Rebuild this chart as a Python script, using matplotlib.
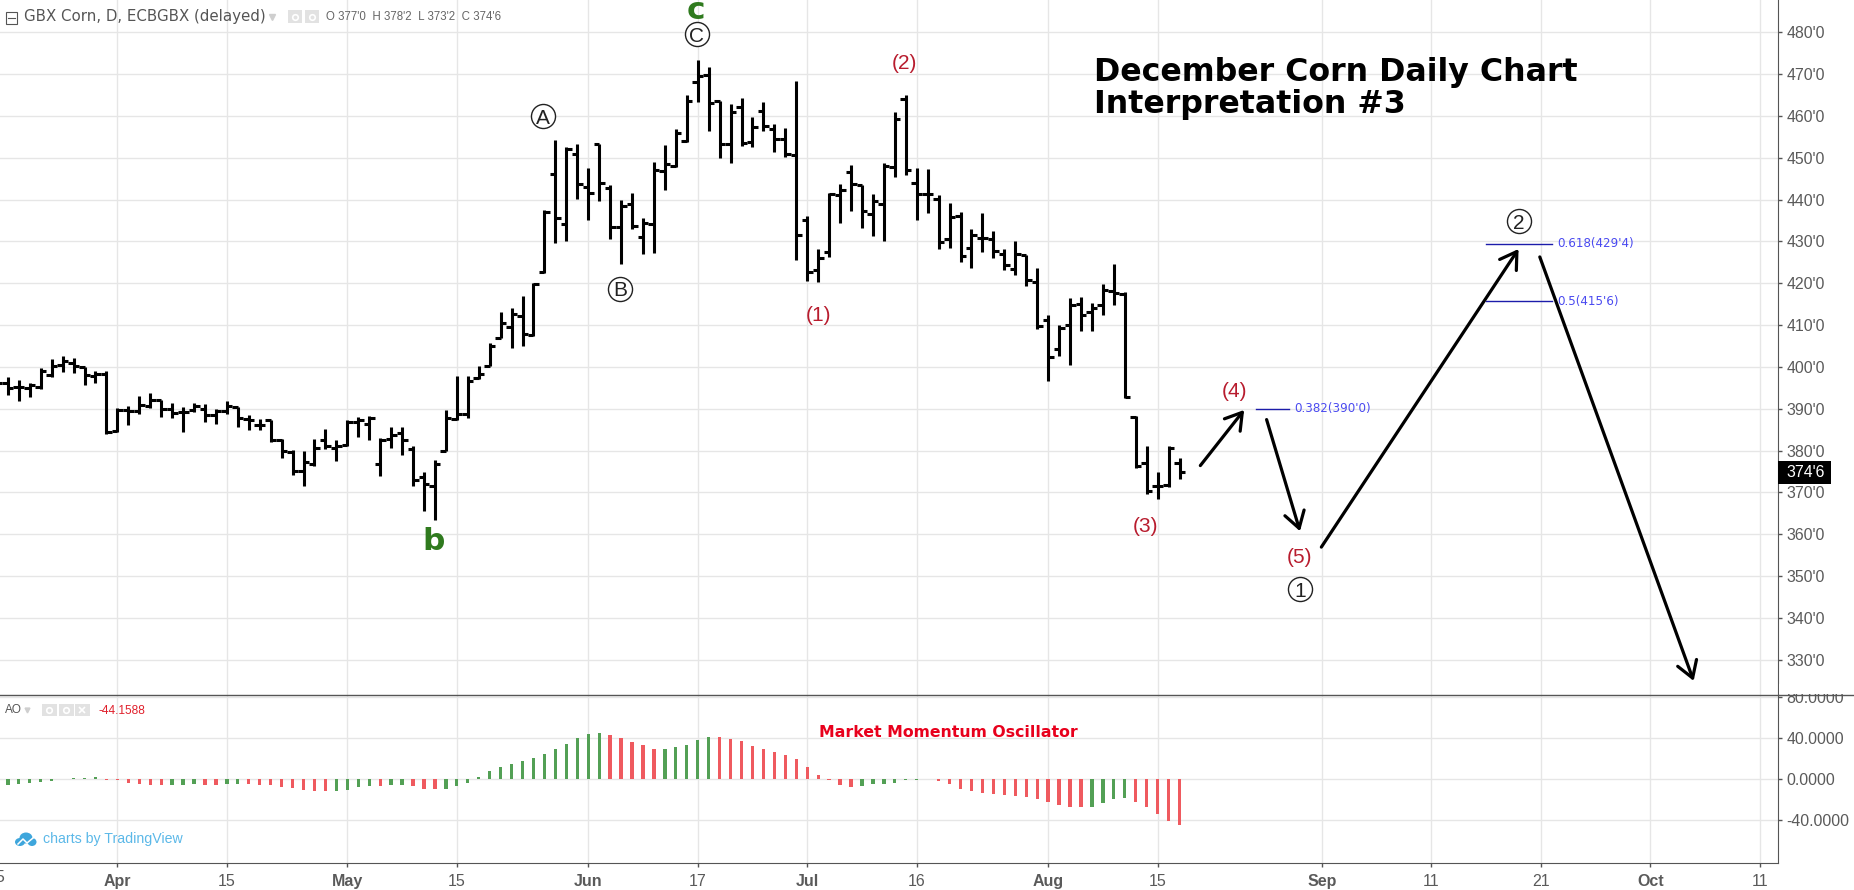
#!/usr/bin/env python3
# -*- coding: utf-8 -*-

import matplotlib
matplotlib.use("Agg")
import matplotlib.pyplot as plt
from matplotlib.patches import Ellipse, Rectangle

plt.rcParams["font.family"] = ["Liberation Sans", "DejaVu Sans"]

W, H = 1854, 890
GRID = "#e6e6e6"
AXIS = "#555555"

# bar index 0 = Apr 2, one step per session
bar_open = [396, 396.2, 395.1, 395, 395.1, 398, 400.5, 400.9, 399.9, 397.8, 398.2,
            384.6, 389.7, 389.4, 390.6, 392, 390, 389.2, 389.6, 390, 388.4, 389.4,
            390.4, 387.6, 386.1, 387.2, 382.6, 379.6, 375.2, 376.8, 382.4, 380.6,
            381.3, 386.8, 386.4, 376.8, 382.8, 384.2, 380.4, 373.6, 371.4, 379.9,
            387.6, 388.8, 397.4, 400.1, 407, 409.6, 412.1, 407.6, 422.8, 446.1,
            434.1, 451, 443.1, 453.3, 442.9, 433.5, 438.9, 431, 434.1, 446.9,
            448, 454, 468.1, 469.7, 463.6, 453.3, 462.1, 453.7, 461.1, 456.9,
            454.5, 450.7, 435.1, 423.1, 427.5, 441.2, 446.5, 443.4, 436.6, 439,
            447.7, 464, 443.9, 441.4, 440.1, 430.6, 436, 428.5, 430.8, 430.7,
            427.1, 423.5, 426.7, 420.3, 411.2, 404.3, 410, 415.1, 413.2, 414.9,
            418.1, 417.5, 388.1, 377.1, 371.4, 371.8, 377]
bar_high = [397, 397.5, 396.9, 396.2, 399.8, 401.9, 402.6, 402.2, 400, 399.1, 399.1,
            390.1, 390.6, 393, 393.7, 392.1, 391.3, 390.5, 391.4, 391.2, 390, 391.8,
            390.5, 388.6, 387.6, 387.3, 382.8, 380.2, 380, 382.8, 385.2, 382.5,
            387.3, 388, 388.2, 383, 385.7, 385.7, 381, 374.8, 377.8, 389.6,
            397.9, 397.9, 400.3, 405.7, 413.2, 414, 417, 420.1, 437.5, 454.2,
            452.5, 453.4, 447.5, 453.4, 443.5, 440, 441.5, 435.5, 449, 453,
            457, 465.1, 473.4, 471.7, 463.7, 462.9, 464.4, 459.7, 463.3, 458,
            457.1, 468.4, 436.1, 428.2, 441.7, 443.7, 448.2, 443.5, 441.3, 448.7,
            460.9, 465, 447.5, 447.3, 441.2, 439.3, 437, 433, 436.9, 432.5,
            428.3, 430, 426.8, 423.7, 412.5, 410, 416.5, 416.8, 415.3, 419.9,
            424.7, 418, 388.2, 381.1, 374.8, 381, 378.25]
bar_low = [394.5, 393.3, 391.8, 392.7, 394.7, 397.7, 398.7, 398.6, 395.7, 396.2, 384,
           384.4, 386.1, 388.8, 390.1, 388, 387.7, 384.4, 389.2, 386.8, 386.4, 388.8,
           385.6, 384.9, 384.8, 382, 378.2, 374.2, 371.4, 376.3, 380.4, 377.5,
           381, 383.3, 382.6, 373.8, 380.5, 379, 371.4, 365.5, 363.3, 379.8,
           387.2, 387.8, 397, 400.1, 407, 404.4, 405.1, 407.3, 422.5, 429.7,
           430.2, 440.1, 435.1, 439.7, 430.7, 424.7, 432.9, 427.1, 427.3, 442.3,
           447.8, 453.8, 463.4, 456.5, 449.9, 448.7, 452.9, 452.5, 456.5, 451.4,
           450.2, 425.6, 420.6, 420.2, 426.3, 434.4, 437.4, 433.2, 431.2, 430,
           445.3, 445.8, 435.2, 436.9, 428.1, 428.4, 425.1, 423.7, 427.5, 426.1,
           423.2, 421.9, 419.4, 409.1, 396.7, 402.5, 400.4, 408.7, 408.7, 412.5,
           414.7, 392.6, 375.8, 369.7, 368.5, 371.3, 373.25]
bar_close = [396.2, 394.9, 395.1, 395.7, 399, 400.3, 401.5, 400.2, 398.1, 398.2, 384.5,
             389.8, 389.4, 390.8, 392.2, 390, 389, 389.2, 390.6, 388.4, 389.4, 390.6,
             387.8, 387.2, 386.1, 382.6, 379.8, 375.2, 377.3, 380.6, 381.2, 381,
             386.8, 387.2, 387.8, 382.6, 383.8, 382.4, 373, 372, 376.7, 387.8,
             388.8, 396.6, 398.2, 405, 410.4, 412.7, 407.9, 419.8, 437.1, 435.7,
             452.2, 443.7, 441.7, 443.9, 433.5, 438.5, 433.7, 434.5, 447.1, 448.5,
             455.9, 463.6, 469.6, 463.1, 453.2, 460.9, 453.5, 457.3, 457.5, 454.5,
             450.9, 431.6, 422.8, 426, 441.3, 442.4, 443.7, 437.2, 439.7, 448.1,
             459.2, 447.1, 441.3, 441.4, 429.8, 435.8, 426.5, 431.5, 430.8, 427.7,
             424.4, 427.1, 420.8, 409.9, 402.3, 409.3, 414.8, 412.5, 414, 418.3,
             417.7, 392.7, 376.3, 370.4, 371.4, 380.7, 374.75]
bar_first = -11

ao_values = [-6, -5.6, -4.6, -3.3, -2.3, -1.3, 0, 1.3, 1.6, 2.3, -0.3,
             -1, -3.6, -4.6, -5.6, -5.6, -5.6, -5.6, -4.6, -5.6, -5.6, -4.6,
             -4.6, -4.6, -5.9, -5.9, -7.5, -8.5, -10.5, -11.5, -11.5, -11.5,
             -10.5, -7.5, -6.6, -6.6, -5.6, -5.6, -6.6, -9.5, -9.5, -9.5,
             -6.6, -3.3, 2.3, 8.2, 12.1, 15.1, 18, 21, 24.9, 29.8,
             34.8, 40.7, 44.6, 45.6, 43.6, 40.7, 36.7, 33.8, 29.8, 29.8,
             31.8, 33.8, 38.7, 41.6, 41.6, 39.7, 37.7, 32.8, 29.8, 26.9,
             23.9, 20, 12.1, 4.3, -1, -5.6, -7.5, -6.6, -4.6, -4.6,
             -3.3, -1, -1, 0, -1.3, -4.6, -9.5, -11.5, -13.4, -14.4,
             -15.4, -16.4, -17.4, -19.3, -22.3, -25.2, -27.2, -27.2, -27.2, -23.3,
             -19.3, -18.4, -22.3, -27.2, -34.1, -41, -44.16]
ao_rising = ("ggggggggggr" "rrrrrggg" "rr" "gg" "rrrrrrrr" "gggg" "r" "gg" "rrr"
             "ggggggggggggggg" "rrrrr" "ggggg" "rrrrrrrrrrrrr" "ggggggg"
             "rrrrrrrrrrrrrr" "gggg" "rrrrr")

price_ticks = list(range(330, 481, 10))
ao_ticks = [-40, 0, 40, 80]
date_ticks = [0, 10, 21, 31, 43, 53, 63, 73, 85, 95, 110, 120, 130, 140, 150]
date_labels = ["Apr", "15", "May", "15", "Jun", "17", "Jul", "16", "Aug", "15",
               "Sep", "11", "21", "Oct", "11"]
month_names = {"Apr", "May", "Jun", "Jul", "Aug", "Sep", "Oct"}

circle_labels = ["A", "B", "C", "1", "2"]
circle_x = [38.9, 45.9, 52.9, 108, 128]
circle_y = [459.9, 418.7, 479.5, 346.8, 434.8]

red_labels = ["(1)", "(2)", "(3)", "(4)", "(5)"]
red_x = [64, 71.9, 93.9, 102, 108]
red_y = [412.4, 472.5, 361.8, 394.1, 354.3]

green_labels = ["b", "c"]
green_x = [28.9, 52.8]
green_y = [356.2, 483.3]

arrow_from = [(98.9, 376.4), (104.95, 387.4), (109.95, 356.9), (129.9, 426.3)]
arrow_to = [(102.9, 389.7), (108, 360.7), (127.96, 428.2), (143.95, 324.9)]

fib_labels = ["0.382(390'0)", "0.618(429'4)", "0.5(415'6)"]
fib_price = [390, 429.5, 415.75]
fib_start = [104, 125, 125]
fib_end = [107, 131, 131]

fig = plt.figure(figsize=(W / 100, H / 100), dpi=100)


def pane(top, bottom):
    ax = fig.add_axes([0, 1 - bottom / H, 1778.4 / W, (bottom - top) / H])
    ax.set_xlim(-10.72, 151.69)
    ax.set_axisbelow(True)
    ax.yaxis.tick_right()
    ax.grid(True, color=GRID, linewidth=1)
    ax.set_xticks(date_ticks)
    for side in ("left", "top", "bottom"):
        ax.spines[side].set_visible(False)
    ax.spines["right"].set_color(AXIS)
    ax.tick_params(axis="y", length=3, width=1, color=AXIS, pad=2.6,
                   labelsize=11.4, labelcolor="#5a5a5a")
    return ax


# price pane
ax = pane(0, 694.7)
ax.set_ylim(321.6, 487.75)
ax.set_yticks(price_ticks)
ax.set_yticklabels([f"{p}'0" for p in price_ticks])
ax.tick_params(axis="x", length=0, labelbottom=False)

xs = [bar_first + k for k in range(len(bar_close))]
ax.vlines(xs, bar_low, bar_high, color="black", linewidth=2.2, capstyle="butt", zorder=3)
ax.hlines(bar_open, [x - 0.5 for x in xs], xs, color="black", linewidth=2.2, zorder=3)
ax.hlines(bar_close, xs, [x + 0.5 for x in xs], color="black", linewidth=2.2, zorder=3)

for y, lab, a, b in zip(fib_price, fib_labels, fib_start, fib_end):
    ax.plot([a, b], [y, y], color="#1c1caa", linewidth=1, zorder=4)
    ax.text(b + 0.5, y, lab, color="#4a4af0", fontsize=8.6, family="DejaVu Sans",
            va="center", ha="left", zorder=4)

for a, b in zip(arrow_from, arrow_to):
    ax.annotate("", xy=b, xytext=a, annotation_clip=False, zorder=5,
                arrowprops=dict(arrowstyle="->,head_length=0.58,head_width=0.36",
                                mutation_scale=20, color="black", linewidth=2.3,
                                shrinkA=0, shrinkB=0))

ax.scatter(circle_x, circle_y, s=300, facecolor="white", edgecolor="#222222",
           linewidth=1, zorder=4, clip_on=False)
for x, y, lab in zip(circle_x, circle_y, circle_labels):
    ax.text(x, y, lab, fontsize=15, color="#222222", ha="center", va="center_baseline", zorder=5)
for x, y, lab in zip(red_x, red_y, red_labels):
    ax.text(x, y, lab, fontsize=15, color="#b81c2e", ha="center", va="center", zorder=5)
for x, y, lab in zip(green_x, green_y, green_labels):
    ax.text(x, y, lab, fontsize=22.5, color="#2f7a1e", family="DejaVu Sans", weight="bold",
            ha="center", va="baseline", zorder=5)

# momentum pane
ax2 = pane(694.7, 863.3)
ax2.set_ylim(-81.95, 82.5)
ax2.set_yticks(ao_ticks)
ax2.set_yticklabels([f"{v:.4f}" for v in ao_ticks])
ax2.spines["bottom"].set_visible(True)
ax2.spines["bottom"].set_color(AXIS)
ax2.set_xticklabels(date_labels)
ax2.tick_params(axis="x", length=3, width=1, color=AXIS, pad=5, labelsize=11.5,
                labelcolor="#5a5a5a")
for tick, lab in zip(ax2.get_xticklabels(), date_labels):
    if lab in month_names:
        tick.set_fontweight("bold")
ao_colors = ["#53a055" if c == "g" else "#ef5a5f" for c in ao_rising]
ax2.bar(xs, ao_values, width=0.3, color=ao_colors, zorder=3)

# overlay in pixel coordinates for the chart furniture
ov = fig.add_axes([0, 0, 1, 1], zorder=10)
ov.set_xlim(0, W)
ov.set_ylim(H, 0)
ov.axis("off")
ov.patch.set_alpha(0)

ov.add_patch(Rectangle((1779.5, 684), 74, 10, facecolor="white", edgecolor="none"))
ov.plot([0, W], [694.7, 694.7], color=AXIS, linewidth=1)

# last price tag
ov.add_patch(Rectangle((1778.5, 461), 52.5, 22.5, facecolor="black", edgecolor="none"))
ov.text(1786, 472.3, "374'6", color="white", fontsize=11.4, va="center", ha="left")

# header
ov.add_patch(Rectangle((6, 12), 11.5, 12, facecolor="white", edgecolor="#555555", linewidth=0.8))
ov.plot([8.5, 15], [18, 18], color="#555555", linewidth=0.8)
ov.text(24, 17, "GBX Corn, D, ECBGBX (delayed)", color="#555555", fontsize=10.8,
        family="DejaVu Sans", va="center", ha="left")
ov.plot([272.5], [17], marker="v", markersize=4, color="#cfcfcf")
for bx in (288, 305):
    ov.add_patch(Rectangle((bx, 10), 14, 13, facecolor="#e2e2e2", edgecolor="none"))
    ov.plot([bx + 7], [16.5], marker="o", markersize=4, markerfacecolor="none",
            markeredgecolor="white", markeredgewidth=1.2)
ov.text(326, 17, "O 377'0  H 378'2  L 373'2  C 374'6", color="#666666", fontsize=8.3,
        va="center", ha="left")

# title
ov.text(1094, 72, "December Corn Daily Chart", color="black", fontsize=22.8, weight="bold",
        family="DejaVu Sans", va="center", ha="left")
ov.text(1094, 104.6, "Interpretation #3", color="black", fontsize=22.8, weight="bold",
        family="DejaVu Sans", va="center", ha="left")

# momentum pane header
ov.text(5, 710, "AO", color="#555555", fontsize=8.5, va="center", ha="left")
ov.plot([27], [710], marker="v", markersize=3.5, color="#cfcfcf")
for bx in (42, 59, 75):
    ov.add_patch(Rectangle((bx, 704), 15, 12, facecolor="#e2e2e2", edgecolor="none"))
    ov.plot([bx + 7.5], [710], marker="x" if bx == 75 else "o", markersize=4,
            markerfacecolor="none", markeredgecolor="white", markeredgewidth=1.2)
ov.text(99, 711, "-44.1588", color="#e0202c", fontsize=8.6, va="center", ha="left")
ov.text(818.7, 732.3, "Market Momentum Oscillator", color="#e8001c", fontsize=11.3,
        weight="bold", family="DejaVu Sans", va="center", ha="left")

# watermark
for cx, cy, ew, eh in [(20, 842, 10, 8), (26, 838, 13, 11), (32, 842, 9, 8)]:
    ov.add_patch(Ellipse((cx, cy), ew, eh, facecolor="#3ea6dc", edgecolor="none"))
ov.plot([18, 23, 27, 33], [844, 839, 843, 838], color="white", linewidth=1.1)
ov.text(43.5, 839, "charts by TradingView", color="#5bb8e8", fontsize=10.2, va="center", ha="left")

# the tick left of the frame
ov.text(-3, 878, "15", color="#5a5a5a", fontsize=11.5, va="center", ha="center")

fig.savefig("out.png", dpi=100, facecolor="white")
